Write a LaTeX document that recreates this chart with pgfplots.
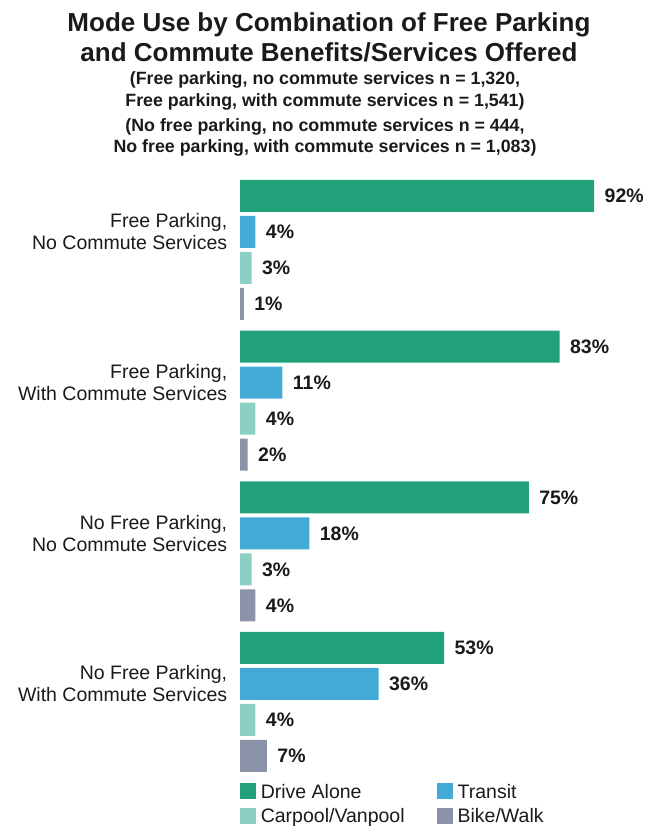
\documentclass[border=0pt]{standalone}
\usepackage{fontspec}
\setmainfont{Liberation Sans}
\usepackage{pgfplots}
\pgfplotsset{compat=1.18}
\definecolor{cDrive}{HTML}{21A179}
\definecolor{cTransit}{HTML}{42AAD4}
\definecolor{cCar}{HTML}{8CD0C3}
\definecolor{cBike}{HTML}{8C93A9}
\definecolor{txt}{HTML}{1A1A1A}
\begin{document}
\begin{tikzpicture}
\begin{axis}[
  scale only axis, width=649pt, height=826pt,
  xmin=-62.338, xmax=106.234, ymin=-826, ymax=0,
  clip=false,
  axis line style={draw=none}, major tick style={draw=none},
  xtick=\empty,
  ytick={-232,-382.67,-533.33,-684},
  yticklabels={{Free Parking,\\No Commute Services},{Free Parking,\\With Commute Services},{No Free Parking,\\No Commute Services},{No Free Parking,\\With Commute Services}},
  y tick label style={anchor=east, align=right, xshift=235pt, font=\fontsize{19.5}{22}\selectfont, text=txt},
  xbar, bar width=32, bar shift=0pt,
  nodes near coords={\pgfplotspointmeta\%},
  nodes near coords style={font=\bfseries\fontsize{19.5}{22}\selectfont, text=txt, anchor=west, xshift=7pt},
  point meta=explicit symbolic,
  legend columns=2,
  legend cell align=left,
  legend style={at={(axis cs:-0.1,-782)}, anchor=north west, draw=none, fill=none,
    font=\fontsize{19.5}{22}\selectfont, text=txt, row sep=5pt, inner sep=0pt,
    /tikz/every even column/.append style={column sep=30pt}},
  legend image code/.code={\fill[#1] (0pt,-7pt) rectangle (16pt,9pt); \path (0pt,0pt) -- (19pt,0pt);},
]
\addplot[fill=cDrive, draw=none] coordinates {(92,-196)[92] (83,-346.67)[83] (75,-497.33)[75] (53,-648)[53]};
\addplot[fill=cTransit, draw=none] coordinates {(4,-232)[4] (11,-382.67)[11] (18,-533.33)[18] (36,-684)[36]};
\addplot[fill=cCar, draw=none] coordinates {(3,-268)[3] (4,-418.67)[4] (3,-569.33)[3] (4,-720)[4]};
\addplot[fill=cBike, draw=none] coordinates {(1,-304)[1] (2,-454.67)[2] (4,-605.33)[4] (7,-756)[7]};
\legend{Drive Alone, Transit, Carpool/Vanpool, Bike/Walk}
\node[font=\bfseries\fontsize{26}{26}\selectfont, text=txt] at (axis cs:23.1,-25) {Mode Use by Combination of Free Parking};
\node[font=\bfseries\fontsize{26}{26}\selectfont, text=txt] at (axis cs:23.1,-52) {and Commute Benefits/Services Offered};
\node[font=\bfseries\fontsize{17.8}{17.8}\selectfont, text=txt] at (axis cs:22.08,-80) {(Free parking, no commute services n = 1,320,};
\node[font=\bfseries\fontsize{17.8}{17.8}\selectfont, text=txt] at (axis cs:22.08,-102) {Free parking, with commute services n = 1,541)};
\node[font=\bfseries\fontsize{17.8}{17.8}\selectfont, text=txt] at (axis cs:22.08,-127) {(No free parking, no commute services n = 444,};
\node[font=\bfseries\fontsize{17.8}{17.8}\selectfont, text=txt] at (axis cs:22.08,-148) {No free parking, with commute services n = 1,083)};
\end{axis}
\pgfresetboundingbox
\path[use as bounding box] (current axis.south west) rectangle (current axis.north east);
\end{tikzpicture}
\end{document}
